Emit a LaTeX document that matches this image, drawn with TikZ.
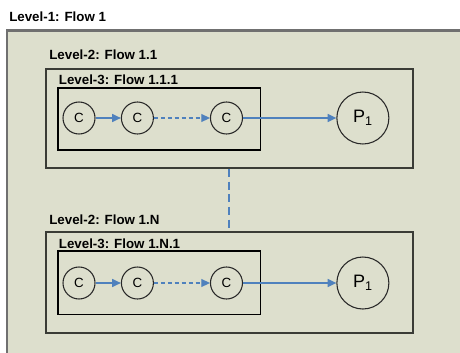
\documentclass[tikz,border=0pt]{standalone}
\usepackage{fontspec}
\setmainfont{Liberation Sans}
\usepackage{tikz}
\usetikzlibrary{arrows.meta, positioning, fit}
\definecolor{flowbg}{RGB}{221,223,205}
\definecolor{flowblue}{RGB}{79,129,189}
\definecolor{outergray}{RGB}{112,112,112}
\definecolor{boxdark}{RGB}{58,60,54}
\definecolor{ringdark}{RGB}{40,40,40}
\tikzset{
  lvone/.style={rectangle, draw=outergray, fill=flowbg, line width=2pt, inner sep=0pt},
  lvtwo/.style={rectangle, draw=boxdark, line width=1.4pt, inner sep=0pt},
  lvthree/.style={rectangle, draw=black, line width=1.1pt, inner sep=0pt},
  lvlabel/.style={font=\fontsize{10}{12}\selectfont\bfseries, inner sep=0pt, anchor=south west},
  cnode/.style={circle, draw=ringdark, line width=0.8pt, minimum size=24pt,
    inner sep=0pt, font=\fontsize{10}{12}\selectfont},
  pnode/.style={circle, draw=ringdark, line width=0.8pt, minimum size=39pt,
    inner sep=0pt, font=\fontsize{13.5}{15}\selectfont},
  arrow/.style={-{Triangle[length=6.5pt,width=6pt]}, line width=1pt, color=flowblue},
  dasharrow/.style={arrow, dash pattern=on 3pt off 2.2pt},
  link/.style={line width=1.7pt, color=flowblue, dash pattern=on 6pt off 3.5pt}
}

\begin{document}
\begin{tikzpicture}[x=0.75pt, y=-0.75pt]
  \clip (0,0) rectangle (460,353);
  % level 1
  \node[lvone, fit={(7,30.5) (480,380)}] (f1) {};
  \node[lvlabel, above right=5.5pt and 2.5pt of f1.north west] (f1lbl) {Level-1: Flow 1};

  % level 2, first flow
  \node[lvtwo, fit={(46,69) (412.7,168)}] (f11) {};
  \node[lvlabel, above right=6pt and 3pt of f11.north west] (f11lbl) {Level-2: Flow 1.1};
  \node[lvthree, fit={(58,88) (260.5,150)}] (f111) {};
  \node[lvlabel, above right=2pt and 1pt of f111.north west] (f111lbl) {Level-3: Flow 1.1.1};
  \node[cnode] (c1) at (79,118) {C};
  \node[cnode, right=19pt of c1] (c2) {C};
  \node[cnode, right=42pt of c2] (c3) {C};
  \node[pnode, right=70pt of c3] (p1) {P\textsubscript{1}};

  % level 2, last flow
  \node[lvtwo, fit={(46,232) (412.7,333.3)}] (f1n) {};
  \node[lvlabel, above right=4.5pt and 3pt of f1n.north west] (f1nlbl) {Level-2: Flow 1.N};
  \node[lvthree, fit={(58,251) (260.5,314.3)}] (f1n1) {};
  \node[lvlabel, above right=1pt and 1pt of f1n1.north west] (f1n1lbl) {Level-3: Flow 1.N.1};
  \node[cnode] (d1) at (79,283) {C};
  \node[cnode, right=19pt of d1] (d2) {C};
  \node[cnode, right=42pt of d2] (d3) {C};
  \node[pnode, right=70pt of d3] (q1) {P\textsubscript{1}};

  \draw[arrow] (c1) -- (c2);
  \draw[dasharrow] (c2) -- (c3);
  \draw[arrow] (c3) -- (p1);
  \draw[arrow] (d1) -- (d2);
  \draw[dasharrow] (d2) -- (d3);
  \draw[arrow] (d3) -- (q1);
  \draw[link] (f11.south) -- (f1n.north);
\end{tikzpicture}
\end{document}
